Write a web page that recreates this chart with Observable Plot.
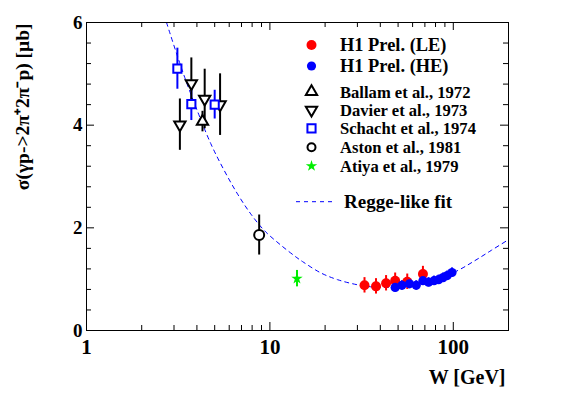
<!DOCTYPE html>
<html><head><meta charset="utf-8">
<script src="https://cdn.jsdelivr.net/npm/d3@7"></script>
<script src="https://cdn.jsdelivr.net/npm/@observablehq/plot@0.6"></script>
<style>body{margin:0;background:#fff}svg{display:block}</style>
</head><body><div id="chart"></div>
<script>
// ---- data ----
const h1LeW = [32.8, 37.9, 43.0, 48.2, 56.1, 68.3];
const h1LeSigma = [0.88, 0.86, 0.92, 0.97, 0.95, 1.10];
const h1LeErr = [0.15, 0.15, 0.15, 0.15, 0.15, 0.15];

const h1HeW = [48.2, 52.5, 57.7, 62.8, 68.3, 73.3, 78.5, 83.1, 87.9, 92.7, 98.4];
const h1HeSigma = [0.84, 0.88, 0.91, 0.88, 0.97, 0.94, 0.97, 0.99, 1.03, 1.07, 1.13];
const h1HeErr = [0.09, 0.09, 0.09, 0.09, 0.09, 0.09, 0.09, 0.09, 0.09, 0.09, 0.09];

const ballamW = [4.29];
const ballamSigma = [4.07];
const ballamErr = [0.2];

const davierW = [3.23, 3.73, 4.41, 5.35];
const davierSigma = [4.01, 4.81, 4.51, 4.40];
const davierErr = [0.5, 0.5, 0.58, 0.6];

const schachtW = [3.13, 3.73, 5.0];
const schachtSigma = [5.10, 4.41, 4.40];
const schachtErr = [0.40, 0.32, 0.28];

const astonW = [8.74];
const astonSigma = [1.86];
const astonErr = [0.39];

const atiyaW = [14.05];
const atiyaSigma = [1.01];
const atiyaErr = [0.16];

const fitW = [2.65, 2.84, 3.15, 3.48, 4.0, 4.76, 5.63, 6.66, 7.87, 9.31, 11.5, 13.9, 15.1, 19.0, 23.4, 30.1, 38.8, 50, 65, 80, 106, 131, 161, 200];
const fitSigma = [6.15, 5.81, 5.32, 4.87, 4.30, 3.64, 3.12, 2.66, 2.27, 1.95, 1.66, 1.43, 1.34, 1.12, 0.99, 0.89, 0.84, 0.85, 0.90, 0.98, 1.17, 1.36, 1.56, 1.77];

const xMajorTicks = [1, 10, 100];
const xMinorTicks = [2, 3, 4, 5, 6, 7, 8, 9, 20, 30, 40, 50, 60, 70, 80, 90, 200];
const yMajorTicks = [0, 2, 4, 6];
const yMinorTicks = [0.4, 0.8, 1.2, 1.6, 2.4, 2.8, 3.2, 3.6, 4.4, 4.8, 5.2, 5.6];

const xTitle = "W [GeV]";
const yTitle = "σ(γp->2π⁺2π⁻p) [μb]";

const legendLabels = ["H1 Prel. (LE)", "H1 Prel. (HE)", "Ballam et al., 1972", "Davier et al., 1973", "Schacht et al., 1974", "Aston et al., 1981", "Atiya et al., 1979"];
const fitLabel = "Regge-like fit";

// ---- build tables ----
const rows = (w, s, e) => w.map((d, i) => ({w: d, s: s[i], e: e[i]}));
const le = rows(h1LeW, h1LeSigma, h1LeErr);
const he = rows(h1HeW, h1HeSigma, h1HeErr);
const ballam = rows(ballamW, ballamSigma, ballamErr);
const davier = rows(davierW, davierSigma, davierErr);
const schacht = rows(schachtW, schachtSigma, schachtErr);
const aston = rows(astonW, astonSigma, astonErr);
const atiya = rows(atiyaW, atiyaSigma, atiyaErr);
const fit = fitW.map((w, i) => ({w, s: fitSigma[i]}));

const W = 565, H = 395;
const mL = 86, mR = 57, mT = 22, mB = 65;
const innerW = W - mL - mR, innerH = H - mT - mB;
const font = "Liberation Serif";

const err = (data, color) => Plot.ruleX(data, {x: "w", y1: d => d.s - d.e, y2: d => d.s + d.e, stroke: color, strokeWidth: 2});

const plot = Plot.plot({
  width: W, height: H,
  marginLeft: mL, marginRight: mR, marginTop: mT, marginBottom: mB,
  style: {fontFamily: font, fontWeight: "bold", background: "#fff", color: "#000"},
  x: {type: "log", domain: [1, 200], axis: null},
  y: {domain: [0, 6], axis: null},
  marks: [
    // fit
    Plot.line(fit, {x: "w", y: "s", stroke: "#0000ff", strokeWidth: 1, strokeDasharray: "4,4", curve: "catmull-rom", clip: true}),
    // error bars
    err(schacht, "#0000ff"),
    err(davier, "#000"),
    err(ballam, "#000"),
    err(aston, "#000"),
    err(atiya, "#00ee00"),
    err(le, "#ff0000"),
    err(he, "#0000ff"),
    // markers
    Plot.dot(davier, {x: "w", y: "s", symbol: "triangle", r: 4.2, rotate: 180, stroke: "#000", strokeWidth: 2, fill: "#fff"}),
    Plot.dot(ballam, {x: "w", y: "s", symbol: "triangle", r: 4.2, stroke: "#000", strokeWidth: 2, fill: "#fff"}),
    Plot.dot(schacht, {x: "w", y: "s", symbol: "square", r: 4.6, stroke: "#0000ff", strokeWidth: 2, fill: "#fff"}),
    Plot.dot(aston, {x: "w", y: "s", symbol: "circle", r: 5, stroke: "#000", strokeWidth: 2, fill: "#fff"}),
    Plot.dot(atiya, {x: "w", y: "s", symbol: "star", r: 3.6, fill: "#00ee00", stroke: "none"}),
    Plot.dot(le, {x: "w", y: "s", r: 5, fill: "#ff0000", stroke: "none"}),
    Plot.dot(he, {x: "w", y: "s", r: 4.6, fill: "#0000ff", stroke: "none"}),
    // frame & inward ticks
    Plot.frame({stroke: "#000", strokeWidth: 1}),
    Plot.tickX(xMajorTicks, {x: d => d, insetTop: innerH - 8, stroke: "#000"}),
    Plot.tickX(xMajorTicks, {x: d => d, insetBottom: innerH - 8, stroke: "#000"}),
    Plot.tickX(xMinorTicks, {x: d => d, insetTop: innerH - 5, stroke: "#000"}),
    Plot.tickX(xMinorTicks, {x: d => d, insetBottom: innerH - 5, stroke: "#000"}),
    Plot.tickY(yMajorTicks, {y: d => d, insetRight: innerW - 8, stroke: "#000"}),
    Plot.tickY(yMajorTicks, {y: d => d, insetLeft: innerW - 8, stroke: "#000"}),
    Plot.tickY(yMinorTicks, {y: d => d, insetRight: innerW - 5, stroke: "#000"}),
    Plot.tickY(yMinorTicks, {y: d => d, insetLeft: innerW - 5, stroke: "#000"}),
    // tick labels
    Plot.text(xMajorTicks, {x: d => d, text: d => String(d), frameAnchor: "bottom", dy: 17, lineAnchor: "middle", fontSize: 21, fontWeight: "bold", fill: "#000"}),
    Plot.text(yMajorTicks, {y: d => d, text: d => String(d), frameAnchor: "left", dx: -4, textAnchor: "end", lineAnchor: "middle", fontSize: 19, fontWeight: "bold", fill: "#000"}),
    // titles
    Plot.text([xTitle], {frameAnchor: "bottom-right", dx: -3, dy: 47, textAnchor: "end", lineAnchor: "middle", fontSize: 20, fontWeight: "bold", fill: "#000"}),
    Plot.text([yTitle], {frameAnchor: "top-left", dx: -64, dy: 1, rotate: -90, textAnchor: "end", lineAnchor: "middle", fontSize: 19.5, fontWeight: "bold", fill: "#000"})
  ]
});

// ---- legend ----
const svg = d3.select(plot);
const lg = svg.append("g").attr("font-family", font).attr("font-weight", "bold").attr("fill", "#000").attr("text-anchor", "start");
const mx = 311.5, tx = 340;
const ys = [45, 66, 91.7, 110, 128.3, 147.3, 166];
const sizes = [18.4, 18.4, 16.6, 16.6, 16.6, 16.6, 16.6];
const sym = [
  {t: d3.symbolCircle, s: Math.PI * 25, fill: "#ff0000", stroke: "none"},
  {t: d3.symbolCircle, s: Math.PI * 21, fill: "#0000ff", stroke: "none"},
  {t: d3.symbolTriangle, s: Math.PI * 4.2 * 4.2, fill: "#fff", stroke: "#000"},
  {t: d3.symbolTriangle, s: Math.PI * 4.2 * 4.2, fill: "#fff", stroke: "#000", rot: 180},
  {t: d3.symbolSquare, s: Math.PI * 4.6 * 4.6, fill: "#fff", stroke: "#0000ff"},
  {t: d3.symbolCircle, s: Math.PI * 16, fill: "#fff", stroke: "#000"},
  {t: d3.symbolStar, s: Math.PI * 3.6 * 3.6, fill: "#00ee00", stroke: "none"}
];
legendLabels.forEach((label, i) => {
  const m = sym[i];
  lg.append("path").attr("d", d3.symbol(m.t, m.s)())
    .attr("transform", `translate(${mx},${ys[i]})` + (m.rot ? ` rotate(${m.rot})` : ""))
    .attr("fill", m.fill).attr("stroke", m.stroke).attr("stroke-width", 2);
  lg.append("text").attr("x", tx).attr("y", ys[i]).attr("dy", "0.35em")
    .attr("font-size", sizes[i]).text(label);
});
lg.append("line").attr("x1", 296).attr("x2", 332).attr("y1", 201.7).attr("y2", 201.7)
  .attr("stroke", "#0000ff").attr("stroke-width", 1).attr("stroke-dasharray", "4,4");
lg.append("text").attr("x", 344).attr("y", 201.7).attr("dy", "0.35em").attr("font-size", 19).text(fitLabel);

document.getElementById("chart").appendChild(plot);
</script>
</body></html>
